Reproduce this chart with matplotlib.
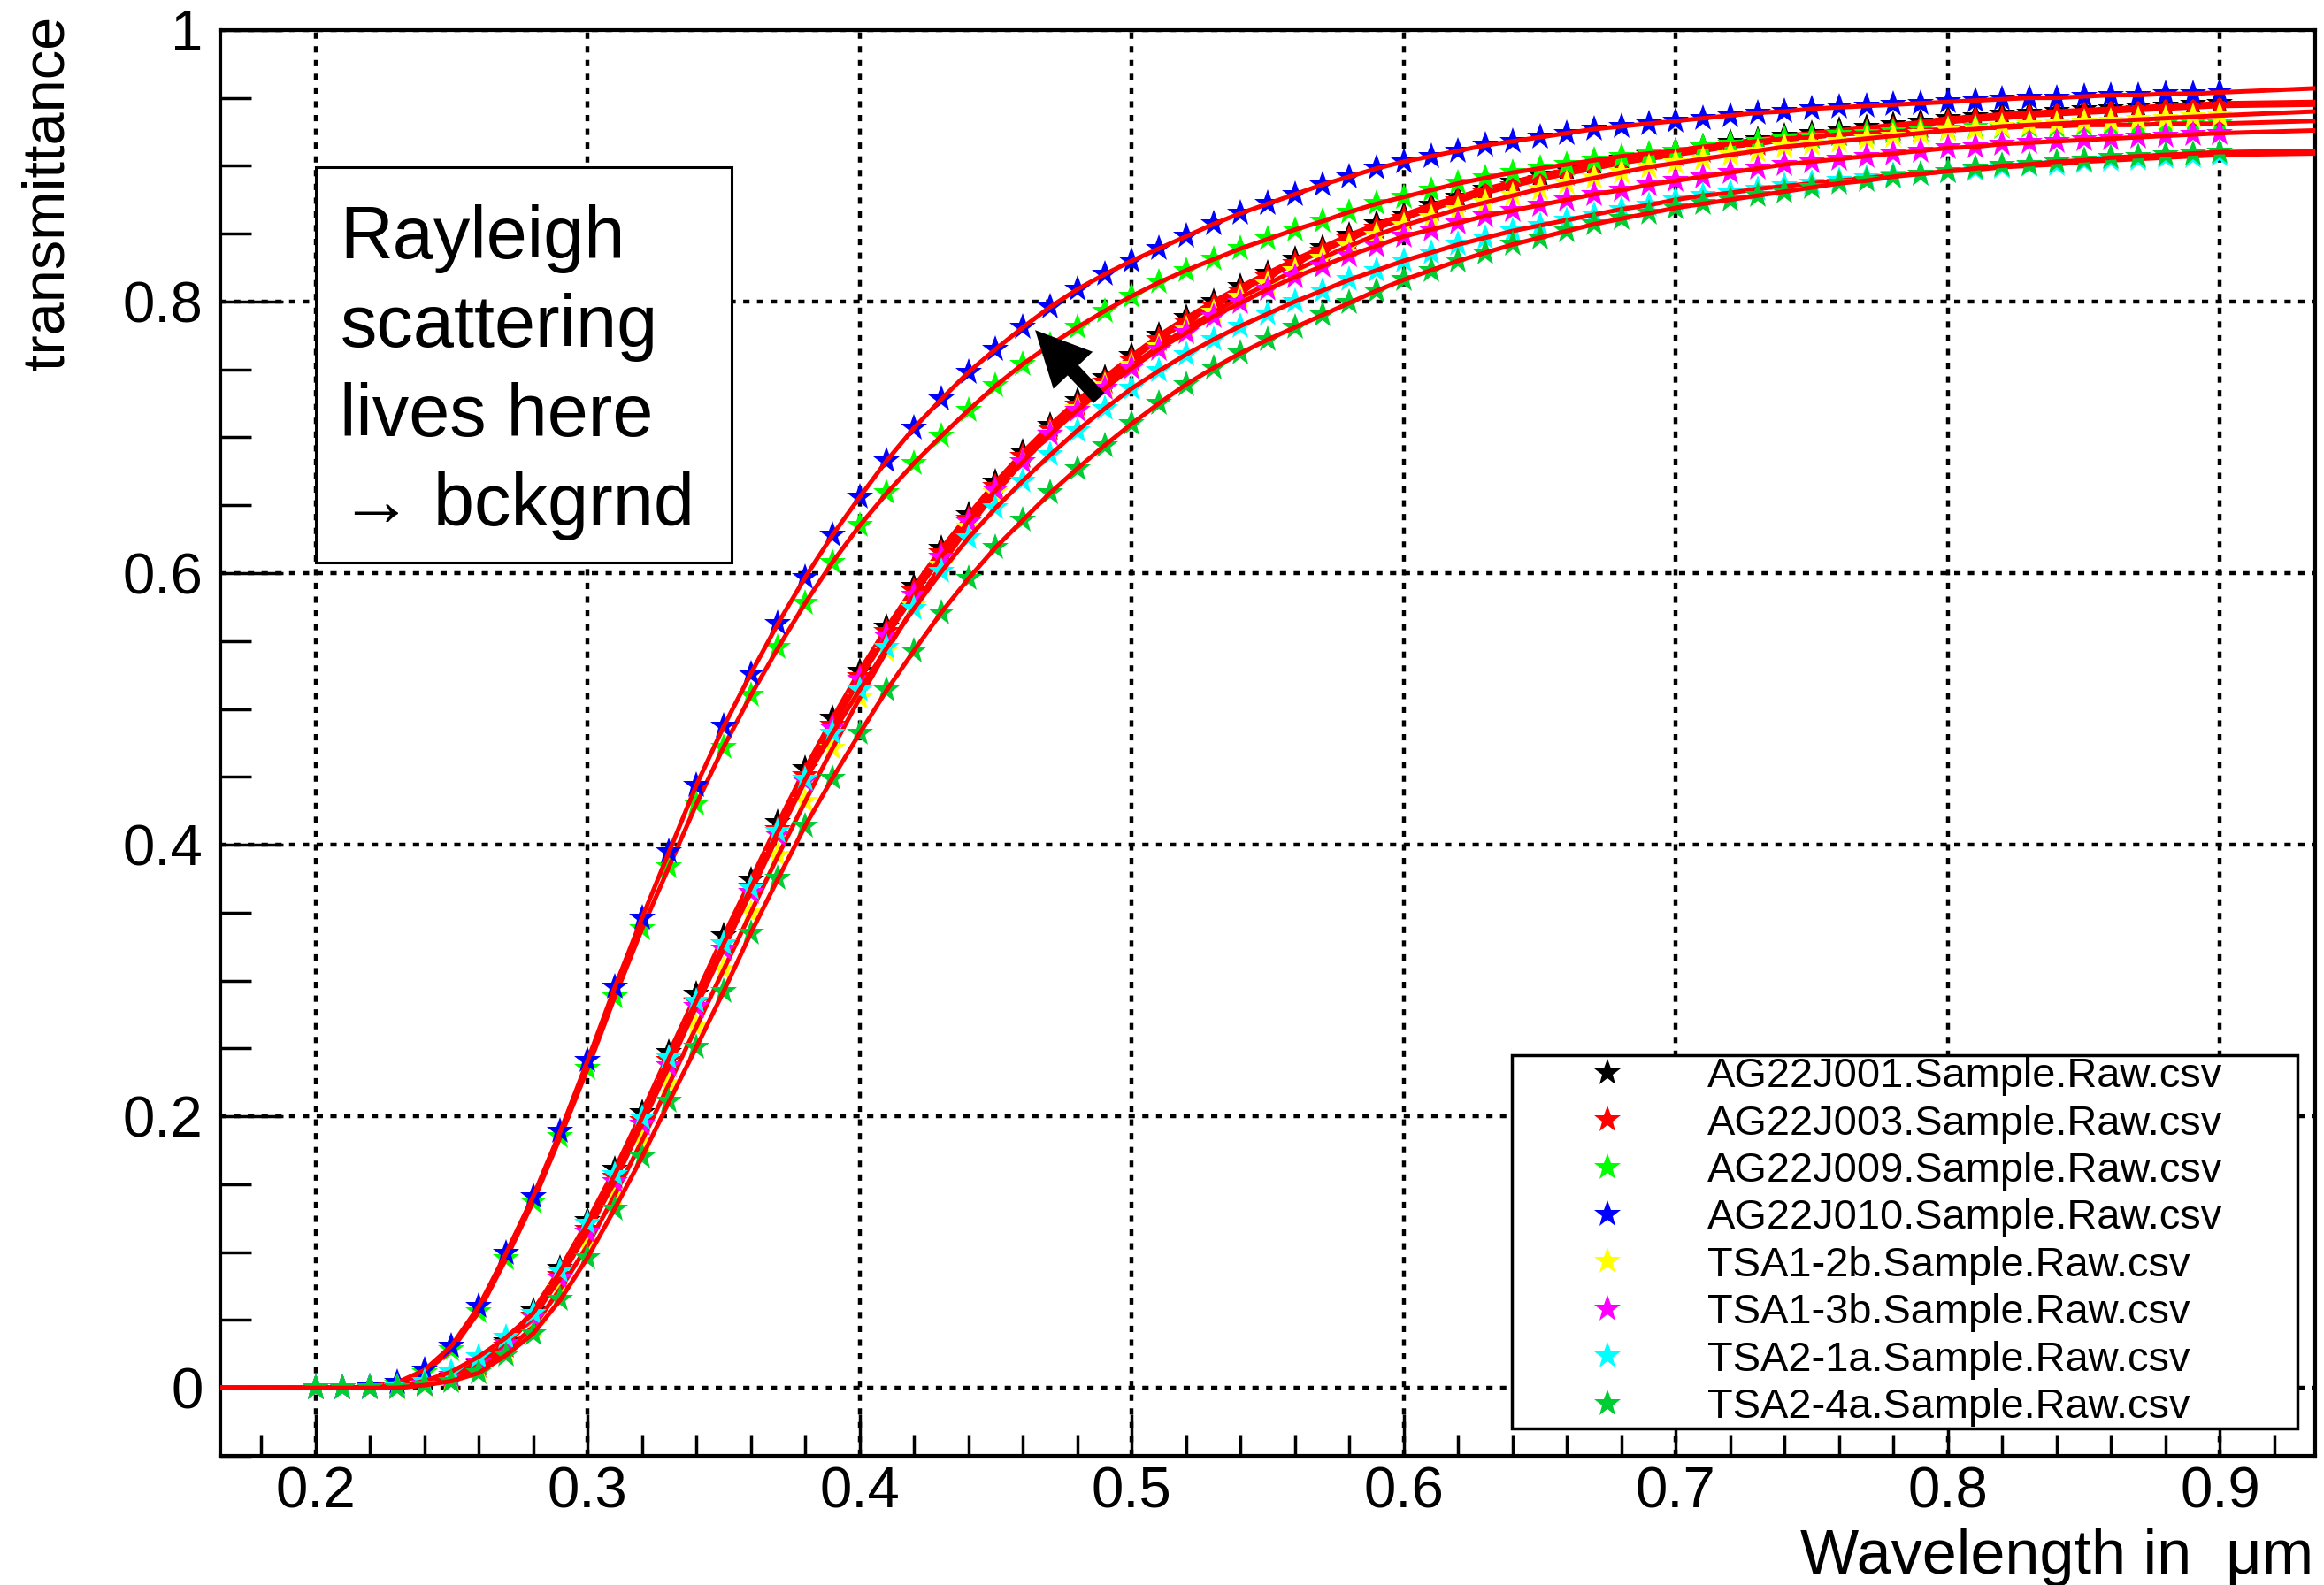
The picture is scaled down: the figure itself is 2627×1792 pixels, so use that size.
import matplotlib
matplotlib.use("Agg")
import matplotlib.pyplot as plt
import numpy as np
from matplotlib.ticker import MultipleLocator, FuncFormatter
from matplotlib.patches import Rectangle, FancyArrowPatch, ArrowStyle

plt.rcParams['font.family'] = ['Liberation Sans', 'DejaVu Sans']

# wavelength grid of the measurements (um)
wl = np.round(np.arange(0.20, 0.9001, 0.01), 2)

names = ['AG22J001.Sample.Raw.csv', 'AG22J003.Sample.Raw.csv',
         'AG22J009.Sample.Raw.csv', 'AG22J010.Sample.Raw.csv',
         'TSA1-2b.Sample.Raw.csv', 'TSA1-3b.Sample.Raw.csv',
         'TSA2-1a.Sample.Raw.csv', 'TSA2-4a.Sample.Raw.csv']
colors = ['black', '#ff0000', '#00ff00', '#0000ff',
          '#ffff00', '#ff00ff', '#00ffff', '#00cc33']

ag001 = [0.000, 0.000, 0.000, 0.001, 0.003, 0.008, 0.018, 0.034, 0.057, 0.088,
         0.123, 0.161, 0.203, 0.247, 0.290, 0.333, 0.374, 0.416, 0.456, 0.493,
         0.528, 0.560, 0.590, 0.618, 0.643, 0.667, 0.689, 0.709, 0.727, 0.744,
         0.760, 0.775, 0.788, 0.800, 0.811, 0.821, 0.831, 0.840, 0.849, 0.857,
         0.864, 0.871, 0.877, 0.883, 0.888, 0.893, 0.897, 0.901, 0.905, 0.908,
         0.911, 0.914, 0.917, 0.919, 0.922, 0.924, 0.926, 0.928, 0.930, 0.932,
         0.935, 0.936, 0.938, 0.939, 0.940, 0.941, 0.942, 0.943, 0.944, 0.945, 0.946]
ag003 = [0.000, 0.000, 0.000, 0.001, 0.003, 0.007, 0.016, 0.031, 0.053, 0.083,
         0.117, 0.155, 0.197, 0.241, 0.284, 0.327, 0.369, 0.411, 0.451, 0.488,
         0.524, 0.557, 0.587, 0.615, 0.640, 0.664, 0.686, 0.706, 0.724, 0.741,
         0.757, 0.772, 0.785, 0.797, 0.808, 0.818, 0.828, 0.837, 0.846, 0.854,
         0.861, 0.868, 0.874, 0.880, 0.885, 0.890, 0.894, 0.898, 0.902, 0.905,
         0.908, 0.911, 0.914, 0.916, 0.919, 0.921, 0.923, 0.925, 0.927, 0.929,
         0.932, 0.934, 0.935, 0.937, 0.938, 0.939, 0.940, 0.941, 0.942, 0.943, 0.944]
ag009 = [0.000, 0.000, 0.001, 0.003, 0.011, 0.028, 0.056, 0.095, 0.137, 0.185,
         0.235, 0.288, 0.338, 0.384, 0.430, 0.472, 0.510, 0.545, 0.578, 0.608,
         0.635, 0.659, 0.681, 0.701, 0.720, 0.738, 0.754, 0.768, 0.781, 0.793,
         0.804, 0.814, 0.823, 0.831, 0.839, 0.846, 0.853, 0.859, 0.866, 0.872,
         0.877, 0.882, 0.887, 0.891, 0.895, 0.898, 0.901, 0.904, 0.907, 0.909,
         0.911, 0.914, 0.916, 0.918, 0.920, 0.921, 0.923, 0.924, 0.925, 0.926,
         0.927, 0.928, 0.928, 0.929, 0.929, 0.930, 0.930, 0.930, 0.931, 0.931, 0.931]
ag010 = [0.000, 0.000, 0.001, 0.004, 0.013, 0.031, 0.060, 0.099, 0.141, 0.189,
         0.241, 0.295, 0.346, 0.395, 0.444, 0.487, 0.526, 0.563, 0.597, 0.628,
         0.656, 0.683, 0.707, 0.728, 0.748, 0.765, 0.781, 0.796, 0.809, 0.820,
         0.830, 0.839, 0.848, 0.857, 0.865, 0.872, 0.879, 0.886, 0.892, 0.898,
         0.903, 0.907, 0.911, 0.915, 0.918, 0.921, 0.924, 0.927, 0.929, 0.931,
         0.933, 0.935, 0.937, 0.939, 0.940, 0.942, 0.943, 0.944, 0.945, 0.946,
         0.947, 0.948, 0.949, 0.950, 0.950, 0.951, 0.952, 0.952, 0.953, 0.953, 0.954]
tsa12b = [0.000, 0.000, 0.000, 0.000, 0.002, 0.006, 0.014, 0.027, 0.045, 0.073,
          0.105, 0.142, 0.182, 0.224, 0.266, 0.308, 0.350, 0.392, 0.432, 0.471,
          0.508, 0.543, 0.576, 0.606, 0.634, 0.659, 0.682, 0.703, 0.721, 0.738,
          0.753, 0.767, 0.780, 0.792, 0.803, 0.813, 0.823, 0.832, 0.841, 0.849,
          0.856, 0.862, 0.868, 0.873, 0.878, 0.883, 0.887, 0.891, 0.895, 0.899,
          0.902, 0.905, 0.908, 0.911, 0.914, 0.916, 0.918, 0.920, 0.922, 0.924,
          0.926, 0.927, 0.929, 0.930, 0.931, 0.932, 0.933, 0.934, 0.935, 0.936, 0.937]
tsa13b = [0.000, 0.000, 0.000, 0.001, 0.003, 0.009, 0.019, 0.033, 0.052, 0.081,
          0.115, 0.152, 0.194, 0.237, 0.281, 0.323, 0.365, 0.407, 0.447, 0.486,
          0.522, 0.554, 0.584, 0.612, 0.638, 0.661, 0.682, 0.702, 0.720, 0.736,
          0.751, 0.765, 0.777, 0.789, 0.799, 0.809, 0.818, 0.826, 0.834, 0.841,
          0.848, 0.853, 0.858, 0.863, 0.867, 0.871, 0.875, 0.879, 0.882, 0.886,
          0.889, 0.892, 0.895, 0.898, 0.901, 0.903, 0.905, 0.907, 0.909, 0.911,
          0.913, 0.914, 0.916, 0.917, 0.918, 0.919, 0.920, 0.921, 0.922, 0.923, 0.924]
tsa21a = [0.000, 0.000, 0.000, 0.001, 0.005, 0.012, 0.023, 0.037, 0.055, 0.086,
          0.121, 0.157, 0.199, 0.243, 0.285, 0.327, 0.368, 0.410, 0.448, 0.482,
          0.514, 0.545, 0.574, 0.601, 0.626, 0.648, 0.668, 0.687, 0.705, 0.721,
          0.736, 0.749, 0.761, 0.772, 0.782, 0.791, 0.800, 0.808, 0.816, 0.823,
          0.830, 0.836, 0.842, 0.847, 0.852, 0.856, 0.860, 0.864, 0.868, 0.871,
          0.875, 0.878, 0.880, 0.883, 0.885, 0.887, 0.889, 0.891, 0.893, 0.894,
          0.896, 0.897, 0.899, 0.900, 0.901, 0.903, 0.904, 0.905, 0.906, 0.907, 0.908]
tsa24a = [0.000, 0.000, 0.000, 0.000, 0.002, 0.005, 0.011, 0.024, 0.040, 0.065,
          0.096, 0.132, 0.170, 0.211, 0.251, 0.292, 0.335, 0.375, 0.414, 0.449,
          0.482, 0.514, 0.543, 0.571, 0.596, 0.619, 0.639, 0.659, 0.677, 0.694,
          0.710, 0.725, 0.739, 0.751, 0.762, 0.772, 0.781, 0.790, 0.799, 0.808,
          0.816, 0.823, 0.830, 0.836, 0.842, 0.847, 0.852, 0.857, 0.861, 0.865,
          0.869, 0.872, 0.875, 0.878, 0.881, 0.884, 0.887, 0.889, 0.892, 0.894,
          0.896, 0.898, 0.900, 0.901, 0.903, 0.904, 0.906, 0.907, 0.908, 0.909, 0.910]

series = [ag001, ag003, ag009, ag010, tsa12b, tsa13b, tsa21a, tsa24a]

# fit curves: value at the left and right ends of the plotted range
fit_x0, fit_x1 = 0.165, 0.935
fit_end = [0.947, 0.945, 0.933, 0.957, 0.940, 0.926, 0.909, 0.911]

fig = plt.figure(figsize=(26.27, 17.92), dpi=100)
ax = fig.add_axes([0.0948, 0.0815, 0.9014, 0.8996])

for i, (name, col, vals) in enumerate(zip(names, colors, series)):
    ax.plot(wl, vals, ls='none', marker='*', ms=23, mew=0, color=col,
            label=name, zorder=3 + 2 * i)
    fx = np.concatenate(([fit_x0], wl, [fit_x1]))
    fy = np.concatenate(([0.0], vals, [fit_end[i]]))
    ax.plot(fx, fy, color='#ff0000', lw=3.6, zorder=4 + 2 * i)

ax.set_xlim(fit_x0, fit_x1)
ax.set_ylim(-0.05, 1.0)
ax.xaxis.set_major_locator(MultipleLocator(0.1))
ax.xaxis.set_minor_locator(MultipleLocator(0.02))
ax.yaxis.set_major_locator(MultipleLocator(0.2))
ax.yaxis.set_minor_locator(MultipleLocator(0.05))
fmt = FuncFormatter(lambda v, p: f'{v:.1f}' if abs(v) > 1e-9 and abs(v - 1) > 1e-9 else f'{v:.0f}')
ax.xaxis.set_major_formatter(FuncFormatter(lambda v, p: f'{v:.1f}'))
ax.yaxis.set_major_formatter(fmt)

ax.tick_params(axis='x', which='major', direction='in', length=34, width=2.5,
               labelsize=47, pad=8)
ax.tick_params(axis='x', which='minor', direction='in', length=17, width=2.5)
ax.tick_params(axis='y', which='major', direction='in', length=51, width=2.5,
               labelsize=47, pad=14)
ax.tick_params(axis='y', which='minor', direction='in', length=25.5, width=2.5)
ax.tick_params(top=False, right=False, which='both')
for sp in ax.spines.values():
    sp.set_linewidth(3)

ax.set_axisbelow(True)
ax.grid(True, which='major', color='black', linestyle=(0, (1.6, 1.9)), linewidth=3.2)

fig.text(55 / 2627, 1 - 18 / 1792, 'transmittance', rotation=90,
         ha='center', va='top', fontsize=48)
fig.text(2615 / 2627, 1 - 1779 / 1792, 'Wavelength in  \u03bcm',
         ha='right', va='baseline', fontsize=50.5)

leg = ax.legend(loc='upper left', bbox_to_anchor=(0.6166, 0.018, 0.375, 0.263),
                mode='expand', borderaxespad=0, fontsize=33.8, borderpad=0.05,
                handlelength=4.5, handletextpad=0.16, labelspacing=0.2,
                fancybox=False, edgecolor='black', framealpha=1)
leg.get_frame().set_linewidth(2.5)
leg.set_zorder(30)

box = Rectangle((0.2, 0.608), 0.153, 0.291, facecolor='white', edgecolor='black',
                lw=2.2, zorder=25)
ax.add_patch(box)
ax.text(0.209, 0.748, 'Rayleigh\nscattering\nlives here\n\u2192 bckgrnd',
        fontsize=59.7, ha='left', va='center', linespacing=1.37, zorder=26)

arrow = FancyArrowPatch((0.488, 0.729), (0.4645, 0.779),
                        arrowstyle=ArrowStyle.Simple(head_length=45, head_width=44, tail_width=12),
                        mutation_scale=1, color='black', lw=0, zorder=27,
                        shrinkA=0, shrinkB=0)
ax.add_patch(arrow)

fig.savefig('out.png', dpi=100)
